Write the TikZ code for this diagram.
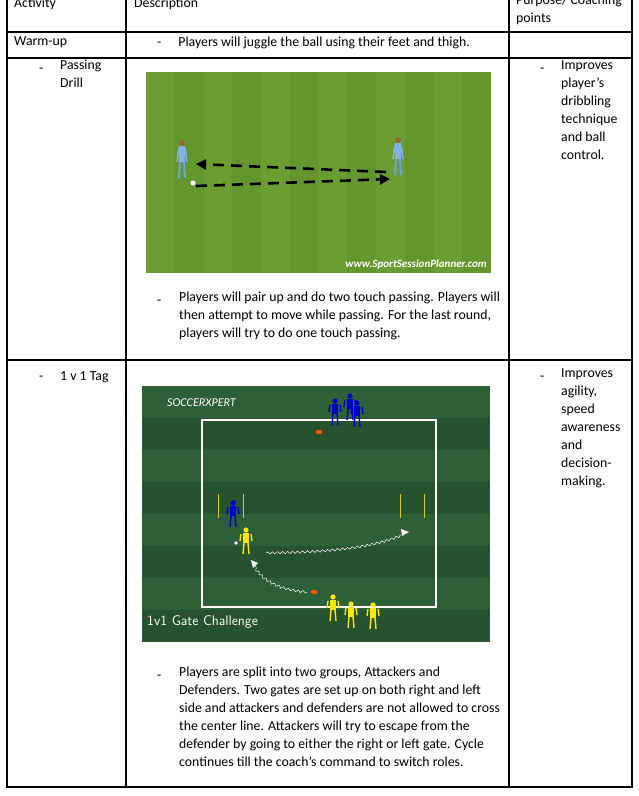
\documentclass[tikz,border=0pt]{standalone}
\usepackage{fontspec}
\setmainfont{Carlito}
\usetikzlibrary{decorations.pathmorphing,arrows.meta}
\definecolor{fa}{RGB}{100,150,46}
\definecolor{fb}{RGB}{108,157,50}
\definecolor{ga}{RGB}{46,96,56}
\definecolor{gb}{RGB}{38,82,48}
\begin{document}
\begin{tikzpicture}[x=1pt,y=-1pt,
 txt/.style={anchor=north west,inner sep=0pt,font=\fontsize{13.8}{18}\selectfont,align=left,execute at begin node=\strut},
 grid/.style={line width=1.1pt},
 wig/.style={white,line width=0.5pt,decorate,decoration={snake,amplitude=1.2pt,segment length=5pt}}]
\useasboundingbox (0,0) rectangle (638,796);
% table
\draw[grid] (7,-2) -- (7,787) -- (632,787) -- (632,-2);
\draw[grid] (126,-2) -- (126,787);
\draw[grid] (509,-2) -- (509,787);
\draw[grid] (7,32) -- (632,32);
\draw[grid] (7,58) -- (632,58);
\draw[grid] (7,360) -- (632,360);
% header
\node[txt] (h1) at (14,-5) {Activity};
\node[txt] (h2) at (134,-5) {Description};
\node[txt] (h3) at (516,-5) {Purpose/ Coaching\\points};
\node[txt] (w1) at (14,33) {Warm-up};
\node[txt] (w2) at (157,34) {-\hspace{17pt}Players will juggle the ball using their feet and thigh.};
\node[txt] (p1) at (39,60) {-};
\node[txt] (p1b) at (60,60) {Passing\\Drill};
\node[txt] (p3) at (540,60) {-};
\node[txt] (p3b) at (561,60) {Improves\\player’s\\dribbling\\technique\\and ball\\control.};
\node[txt] (p2) at (157,292) {-};
\node[txt] (p2b) at (179,292) {Players will pair up and do two touch passing. Players will\\then attempt to move while passing. For the last round,\\players will try to do one touch passing.};
\node[txt] (t1) at (39,368) {-};
\node[txt] (t1b) at (60,368) {1 v 1 Tag};
\node[txt] (t3) at (540,368) {-};
\node[txt] (t3b) at (561,368) {Improves\\agility,\\speed\\awareness\\and\\decision-\\making.};
\node[txt] (g2) at (157,667) {-};
\node[txt] (g2b) at (179,667) {Players are split into two groups, Attackers and\\Defenders. Two gates are set up on both right and left\\side and attackers and defenders are not allowed to cross\\the center line. Attackers will try to escape from the\\defender by going to either the right or left gate. Cycle\\continues till the coach’s command to switch roles.};
% passing field
\fill[fa] (146,72) rectangle (491,273);
\foreach \i in {0,2,4,6,8,10}{\fill[fb] (146+\i*28.75,72) rectangle (146+\i*28.75+28.75,273);}
\foreach \x/\y in {182/140,398/137}{
 \fill[cyan!60!blue!50] (\x-3,\y+6) rectangle (\x+3,\y+22);
 \fill[brown!80!black] (\x,\y+3) circle (3);
 \draw[cyan!60!blue!60,line width=2pt] (\x-2,\y+22) -- (\x-3,\y+38) (\x+2,\y+22) -- (\x+3,\y+38);
 \draw[cyan!60!blue!50,line width=1.5pt] (\x-3,\y+8) -- (\x-5,\y+22) (\x+3,\y+8) -- (\x+5,\y+22);}
\coordinate (pa) at (386,172); \coordinate (pb) at (196,164);
\coordinate (pc) at (196,186); \coordinate (pd) at (390,179);
\fill[white] (193,183) circle (2.5);
\draw[black,line width=2.6pt,dash pattern=on 11pt off 7pt,-{Triangle[length=10pt,width=10pt]}] (pa) -- (pb);
\draw[black,line width=2.6pt,dash pattern=on 11pt off 7pt,-{Triangle[length=10pt,width=10pt]}] (pc) -- (pd);
\node[anchor=south east,inner sep=2pt,text=white,font=\bfseries\itshape\fontsize{11}{12}\selectfont] (wm) at (489,271) {www.SportSessionPlanner.com};
% 1v1 field
\fill[ga] (142,386) rectangle (490,638);
\foreach \i in {0,2,4,6}{\fill[gb] (142,418+\i*32) rectangle (490,450+\i*32);}
\draw[white,line width=1.2pt] (202,420) rectangle (436,607);
\node[anchor=west,inner sep=0pt,text=white,font=\itshape\fontsize{12}{12}\selectfont] (logo) at (167,403) {SOCCERXPERT};
\node[anchor=west,inner sep=0pt,text=white,font=\sffamily\fontsize{14}{14}\selectfont] (gc) at (147,622) {1v1 Gate Challenge};
\fill[orange!70!red] (319,432) ellipse (3.5 and 2);
\fill[orange!70!red] (314,592) ellipse (3.5 and 2);
\draw[yellow!80!black,line width=0.8pt] (218,494)--(218,518) (243,494)--(243,518) (400,494)--(400,518) (424,494)--(424,518);
% figures
\foreach \x/\y/\c in {335/398/blue!80!black,350/393/blue!80!black,357/400/blue!80!black,233/500/blue!80!black,246/527/yellow!90!orange,333/594/yellow!90!orange,351/601/yellow!90!orange,373/602/yellow!90!orange}{
 \fill[\c] (\x,\y+3) circle (2.6);
 \fill[\c] (\x-3,\y+6) rectangle (\x+3,\y+16);
 \draw[\c,line width=1.4pt] (\x-2,\y+16)--(\x-3,\y+27) (\x+2,\y+16)--(\x+3,\y+27) (\x-5,\y+7)--(\x-6,\y+14) (\x+5,\y+7)--(\x+6,\y+14);}
\fill[white] (236,543) circle (1.8);
\coordinate (wa) at (266,553); \coordinate (wb) at (407,532);
\coordinate (wc) at (307,592); \coordinate (wd) at (251,561);
\draw[wig] (wa) .. controls (330,552) and (370,548) .. ++(135,-18);
\fill[white] (409,532) -- (401,529) -- (402,536) -- cycle;
\draw[wig] (wc) .. controls (280,590) and (262,580) .. ++(-53,-28);
\fill[white] (251,560) -- (253,568) -- (258,563) -- cycle;
\end{tikzpicture}
\end{document}
